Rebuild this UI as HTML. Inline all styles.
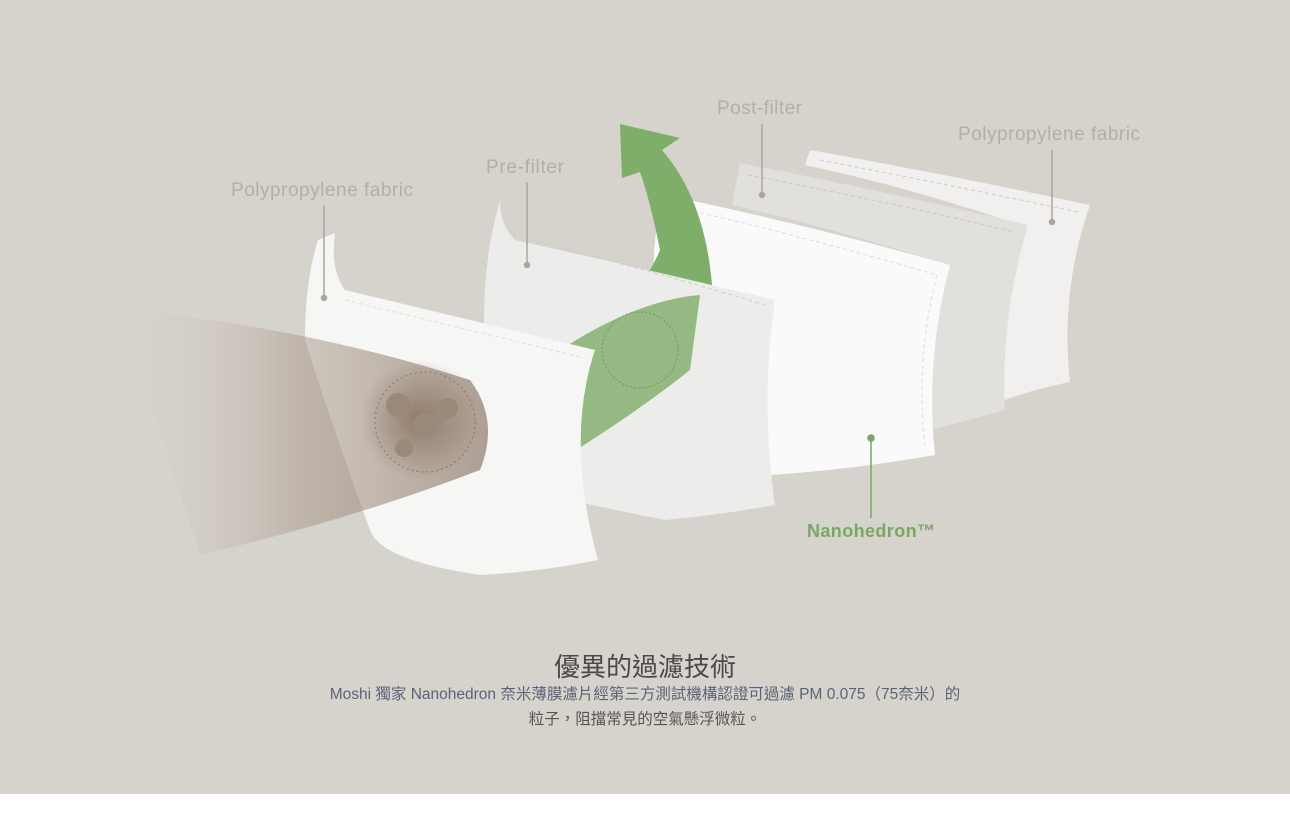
<!DOCTYPE html>
<html><head><meta charset="utf-8"><style>
html,body{margin:0;padding:0;background:#fff;}
.wrap{position:relative;width:1290px;height:815px;overflow:hidden;background:#fff;}
svg{position:absolute;left:0;top:0;}
.t{position:absolute;left:0;width:1290px;text-align:center;font-family:"Liberation Sans","Noto Sans CJK TC",sans-serif;color:#555;}
</style></head><body><div class="wrap">
<svg width="1290" height="815" viewBox="0 0 1290 815">
<defs>
<linearGradient id="br" x1="0" x2="1" y1="0" y2="0">
<stop offset="0" stop-color="#d6d2cc" stop-opacity="0"/>
<stop offset="0.5" stop-color="#a89888" stop-opacity="0.6"/>
<stop offset="1" stop-color="#8a7565" stop-opacity="0.8"/>
</linearGradient>
<radialGradient id="glow" cx="0.5" cy="0.5" r="0.5">
<stop offset="0" stop-color="#8a7565" stop-opacity="0.9"/>
<stop offset="1" stop-color="#8a7565" stop-opacity="0"/>
</radialGradient>
</defs>
<rect width="1290" height="794" fill="#d6d2cc"/>
<path d="M810 150 Q950 175 1090 205 Q1060 290 1070 382 Q1030 390 1000 402 Q990 300 1005 220 Q900 185 805 165 Z" fill="#f1f0ee"/>
<path d="M820 160 Q950 185 1078 212" stroke="#ccc" stroke-dasharray="4 3" fill="none"/>
<path d="M740 163 Q880 190 1028 225 Q1000 320 1005 410 Q970 420 930 430 Q930 330 948 265 Q840 230 732 205 Z" fill="#e2e0dd"/>
<path d="M748 175 Q880 200 1015 232" stroke="#c8c6c2" stroke-dasharray="4 3" fill="none"/>
<path d="M665 195 Q810 225 950 265 Q925 360 935 455 Q850 470 770 475 Q755 400 760 340 Q700 300 655 290 Q650 240 665 195 Z" fill="#fafafa"/>
<path d="M680 208 Q810 238 937 275 Q915 360 925 446" stroke="#ddd" stroke-dasharray="4 3" fill="none"/>
<path d="M620 124 L680 138 L662 150 Q705 200 712 285 L640 340 L570 350 Q640 300 660 250 Q650 200 640 172 L622 178 Z" fill="#7fae6a"/>
<path d="M500 200 Q500 225 515 240 Q650 270 775 300 Q760 400 775 505 Q720 515 665 520 Q590 505 570 500 Q550 430 568 380 Q520 360 485 350 Q480 270 500 200 Z" fill="#ececea"/>
<path d="M512 235 Q650 270 765 305" stroke="#ccc" stroke-dasharray="4 3" fill="none"/>
<path d="M568 345 Q640 300 700 295 L690 370 Q640 410 568 455 Z" fill="#86b070" opacity="0.85"/>
<circle cx="640" cy="350" r="38" fill="none" stroke="#6e9a5a" stroke-dasharray="2 2"/>
<path d="M318 240 L335 233 Q330 270 345 290 Q470 320 595 350 Q565 440 598 560 Q540 572 480 575 Q380 560 370 530 Q330 420 305 340 Q305 280 318 240 Z" fill="#f6f6f5"/>
<path d="M345 300 Q470 330 585 358" stroke="#ddd" stroke-dasharray="4 3" fill="none"/>
<path d="M120 310 Q300 325 470 380 Q500 420 480 470 Q350 520 200 555 Z" fill="url(#br)" opacity="0.85"/>
<circle cx="420" cy="420" r="60" fill="url(#glow)"/>
<circle cx="425" cy="422" r="50" fill="none" stroke="#8a7565" stroke-dasharray="2 3"/>
<g fill="#9a8878"><circle cx="398" cy="405" r="12"/><circle cx="448" cy="408" r="10"/><circle cx="425" cy="425" r="12"/><circle cx="404" cy="448" r="9"/></g>
<g stroke="#a9a6a2" stroke-width="1.5" fill="#a9a6a2">
<line x1="324" y1="205" x2="324" y2="298"/><circle cx="324" cy="298" r="2.5"/>
<line x1="527" y1="182" x2="527" y2="265"/><circle cx="527" cy="265" r="2.5"/>
<line x1="762" y1="124" x2="762" y2="195"/><circle cx="762" cy="195" r="2.5"/>
<line x1="1052" y1="150" x2="1052" y2="222"/><circle cx="1052" cy="222" r="2.5"/>
</g>
<g stroke="#7aa862" stroke-width="1.5" fill="#7aa862"><line x1="871" y1="438" x2="871" y2="518"/><circle cx="871" cy="438" r="3"/></g>
<g font-family="Liberation Sans, sans-serif" font-size="19" fill="#b2afab">
<text x="231" y="196" textLength="182">Polypropylene fabric</text>
<text x="486" y="173" textLength="78">Pre-filter</text>
<text x="717" y="114" textLength="85">Post-filter</text>
<text x="958" y="140" textLength="182">Polypropylene fabric</text>
</g>
<text x="807" y="537" font-family="Liberation Sans, sans-serif" font-size="18" font-weight="bold" fill="#7aa862" textLength="128">Nanohedron™</text>
</svg>
<div class="t" style="top:647px;font-size:26px;color:#4a4a4a;">優異的過濾技術</div>
<div class="t" style="top:682px;font-size:15.5px;line-height:25px;"><span style="color:#5a6478">Moshi 獨家 Nanohedron 奈米薄膜濾片經第三方測試機構認證可過濾 PM 0.075（75奈米）的</span><br>粒子，阻擋常見的空氣懸浮微粒。</div>
</div></body></html>
